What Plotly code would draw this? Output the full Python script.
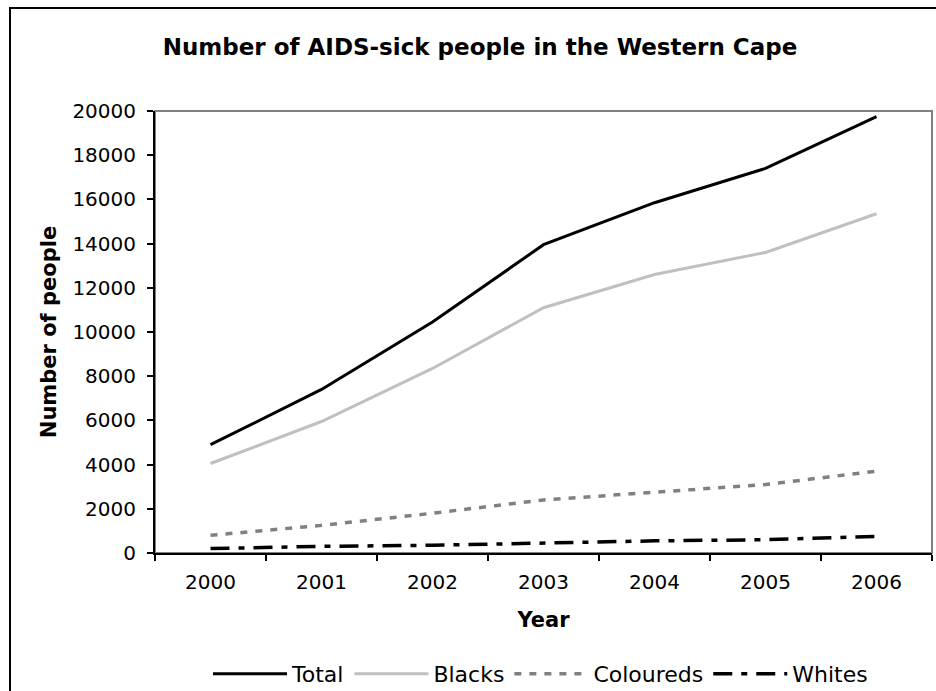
import plotly.graph_objects as go

# Data
years = ["2000", "2001", "2002", "2003", "2004", "2005", "2006"]
total = [4900, 7400, 10450, 13950, 15850, 17400, 19750]
blacks = [4050, 5950, 8350, 11100, 12600, 13600, 15350]
coloureds = [800, 1250, 1800, 2400, 2750, 3100, 3700]
whites = [200, 300, 350, 450, 550, 600, 750]
y_ticks = [0, 2000, 4000, 6000, 8000, 10000, 12000, 14000, 16000, 18000, 20000]

FONT = "Verdana, DejaVu Sans, sans-serif"

W, H = 936, 691
L, R, T, B = 155, 4, 111, 138
pw, ph = W - L - R, H - T - B

fig = go.Figure()
fig.add_trace(go.Scatter(x=years, y=total, name="Total", mode="lines",
                         line=dict(color="#000000", width=3)))
fig.add_trace(go.Scatter(x=years, y=blacks, name="Blacks", mode="lines",
                         line=dict(color="#c0c0c0", width=3)))
fig.add_trace(go.Scatter(x=years, y=coloureds, name="Coloureds", mode="lines",
                         line=dict(color="#808080", width=3.5, dash="7px,8px")))
fig.add_trace(go.Scatter(x=years, y=whites, name="Whites", mode="lines",
                         line=dict(color="#000000", width=3.5, dash="19px,9px,6px,9px")))

def px_x(x):
    return (x - L) / pw

def px_y(y):
    return (H - B - y) / ph

shapes = [
    # plot-area frame
    dict(type="rect", xref="paper", yref="paper", x0=0, x1=1, y0=0, y1=1,
         line=dict(color="#808080", width=2), layer="below"),
    # outer chart border
    dict(type="rect", xref="paper", yref="paper",
         x0=px_x(10), x1=px_x(945), y0=px_y(700), y1=px_y(8),
         line=dict(color="#000000", width=2), layer="below"),
]

fig.update_layout(
    width=W, height=H,
    margin=dict(l=L, r=R, t=T, b=B, autoexpand=False),
    paper_bgcolor="white", plot_bgcolor="white",
    font=dict(family=FONT, size=20, color="#000000"),
    title=dict(text="<b>Number of AIDS-sick people in the Western Cape</b>",
               x=px_x(480), xanchor="center", xref="paper",
               y=1 - 47 / H, yanchor="middle",
               font=dict(family=FONT, size=23, color="#000000")),
    showlegend=True,
    legend=dict(orientation="h", xref="container", x=208 / W, xanchor="left",
                yref="container", y=(H - 674) / H, yanchor="middle",
                font=dict(family=FONT, size=22, color="#000000"),
                itemwidth=74, bgcolor="rgba(0,0,0,0)", traceorder="normal"),
    shapes=shapes,
)

fig.update_xaxes(
    type="category", categoryorder="array", categoryarray=years,
    range=[-0.5, len(years) - 0.5], automargin=False,
    showline=True, linecolor="#000000", linewidth=2,
    ticks="outside", tickson="boundaries", ticklen=6, tickwidth=2, tickcolor="#000000",
    ticklabelstandoff=10,
    showgrid=False, zeroline=False,
    tickfont=dict(family=FONT, size=20),
    title=dict(text="<b>Year</b>", font=dict(family=FONT, size=21), standoff=19),
)
fig.update_yaxes(
    range=[0, 20000], tickvals=y_ticks, ticktext=[str(v) for v in y_ticks],
    automargin=False,
    showline=True, linecolor="#000000", linewidth=2,
    ticks="outside", ticklen=6, tickwidth=2, tickcolor="#000000",
    ticklabelstandoff=7,
    showgrid=False, zeroline=False,
    tickfont=dict(family=FONT, size=20),
    title=dict(text="<b>Number of people</b>", font=dict(family=FONT, size=21), standoff=10),
)

fig.write_html("out.html")
